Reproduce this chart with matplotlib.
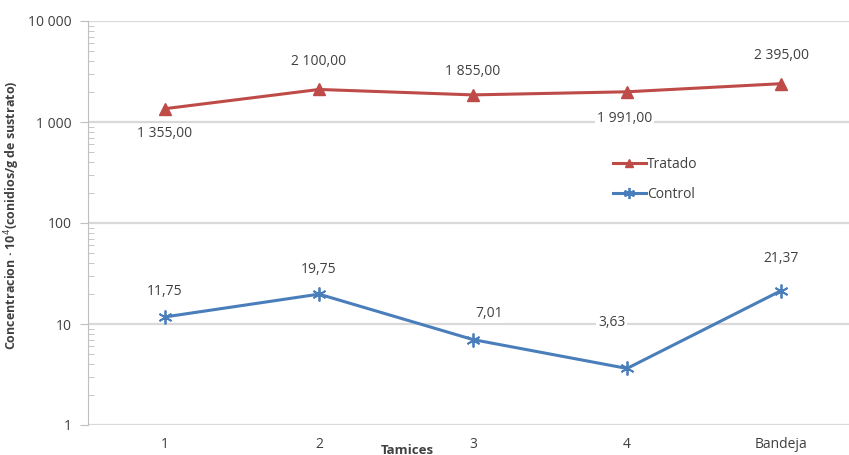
"""Concentracion de conidios por tamiz
"""

import matplotlib
matplotlib.use('Agg')
import matplotlib.pyplot as plt
from matplotlib.ticker import FixedLocator, LogLocator, NullFormatter

# Datos
tamices = ['1', '2', '3', '4', 'Bandeja']
tratado = [1355.00, 2100.00, 1855.00, 1991.00, 2395.00]
control = [11.75, 19.75, 7.01, 3.63, 21.37]
# desplazamiento de cada etiqueta (puntos)
off_tratado = [(0, -18), (0, 20), (0, 17), (-2, -19), (0, 20)]
off_control = [(0, 18), (0, 18), (12, 19), (-11, 33), (0, 23)]

ticks_y = [1, 10, 100, 1000, 10000]
ticks_y_txt = ['1', '10', '100', '1 000', '10 000']


def fmt(v):
    s = '{:,.2f}'.format(v)
    return s.replace(',', ' ').replace('.', ',')


def main():
    plt.rcParams['font.family'] = ['Open Sans', 'DejaVu Sans']
    gray = '#404040'
    fs = 10

    fig = plt.figure(figsize=(8.49, 4.55), dpi=100)
    ax = fig.add_axes([88 / 849, 30 / 455, 770 / 849, 404 / 455])

    x = list(range(len(tamices)))
    ax.plot(x, tratado, color='#BE4B48', lw=2.2, marker='^', ms=8,
            label='Tratado', zorder=3)
    ax.plot(x, control, color='#4A7EBB', lw=2.2, marker=(6, 2, 0), ms=10,
            mew=1.3, label='Control', zorder=3)

    ax.set_yscale('log')
    ax.set_ylim(1, 10000)
    ax.set_xlim(-0.5, 4.5)
    ax.yaxis.set_major_locator(FixedLocator(ticks_y))
    ax.set_yticklabels(ticks_y_txt)
    ax.yaxis.set_minor_locator(LogLocator(base=10, subs=range(2, 10)))
    ax.yaxis.set_minor_formatter(NullFormatter())
    ax.set_xticks(x)
    ax.set_xticklabels(tamices)

    ax.grid(axis='y', which='major', color='#D9D9D9', lw=1.6, zorder=0)
    for s in ['top', 'right', 'bottom']:
        ax.spines[s].set_visible(False)
    ax.spines['left'].set_color('#BFBFBF')
    ax.tick_params(axis='y', which='major', length=6, color='#BFBFBF',
                   labelsize=fs, labelcolor=gray, pad=6)
    ax.tick_params(axis='y', which='minor', direction='in', length=4,
                   color='#BFBFBF')
    ax.tick_params(axis='x', length=0, labelsize=fs, labelcolor=gray, pad=9)

    for xi, v, o in zip(x, tratado, off_tratado):
        ax.annotate(fmt(v), (xi, v), xytext=o, textcoords='offset points',
                    ha='center', va='center', fontsize=fs, color=gray,
                    bbox=dict(fc='white', ec='none', pad=1.5), zorder=4)
    for xi, v, o in zip(x, control, off_control):
        ax.annotate(fmt(v), (xi, v), xytext=o, textcoords='offset points',
                    ha='center', va='center', fontsize=fs, color=gray,
                    bbox=dict(fc='white', ec='none', pad=1.5), zorder=4)

    ax.set_ylabel('Concentracion · 10$^4$(conidios/g de sustrato)',
                  fontsize=9, fontweight='bold', color=gray)
    ax.yaxis.set_label_coords((22 - 88) / 770, 0.52)
    fig.text(407 / 849, 1 - 450 / 455, 'Tamices', ha='center', va='center',
             fontsize=9.5, fontweight='bold', color=gray)

    leg = ax.legend(loc='upper left', bbox_to_anchor=(0.665, 0.695),
                    frameon=False, fontsize=fs, handlelength=2.4,
                    handletextpad=0.1, labelspacing=1.1, markerscale=0.8)
    for t in leg.get_texts():
        t.set_color(gray)

    fig.savefig('out.png', dpi=100)


if __name__ == '__main__':
    main()
